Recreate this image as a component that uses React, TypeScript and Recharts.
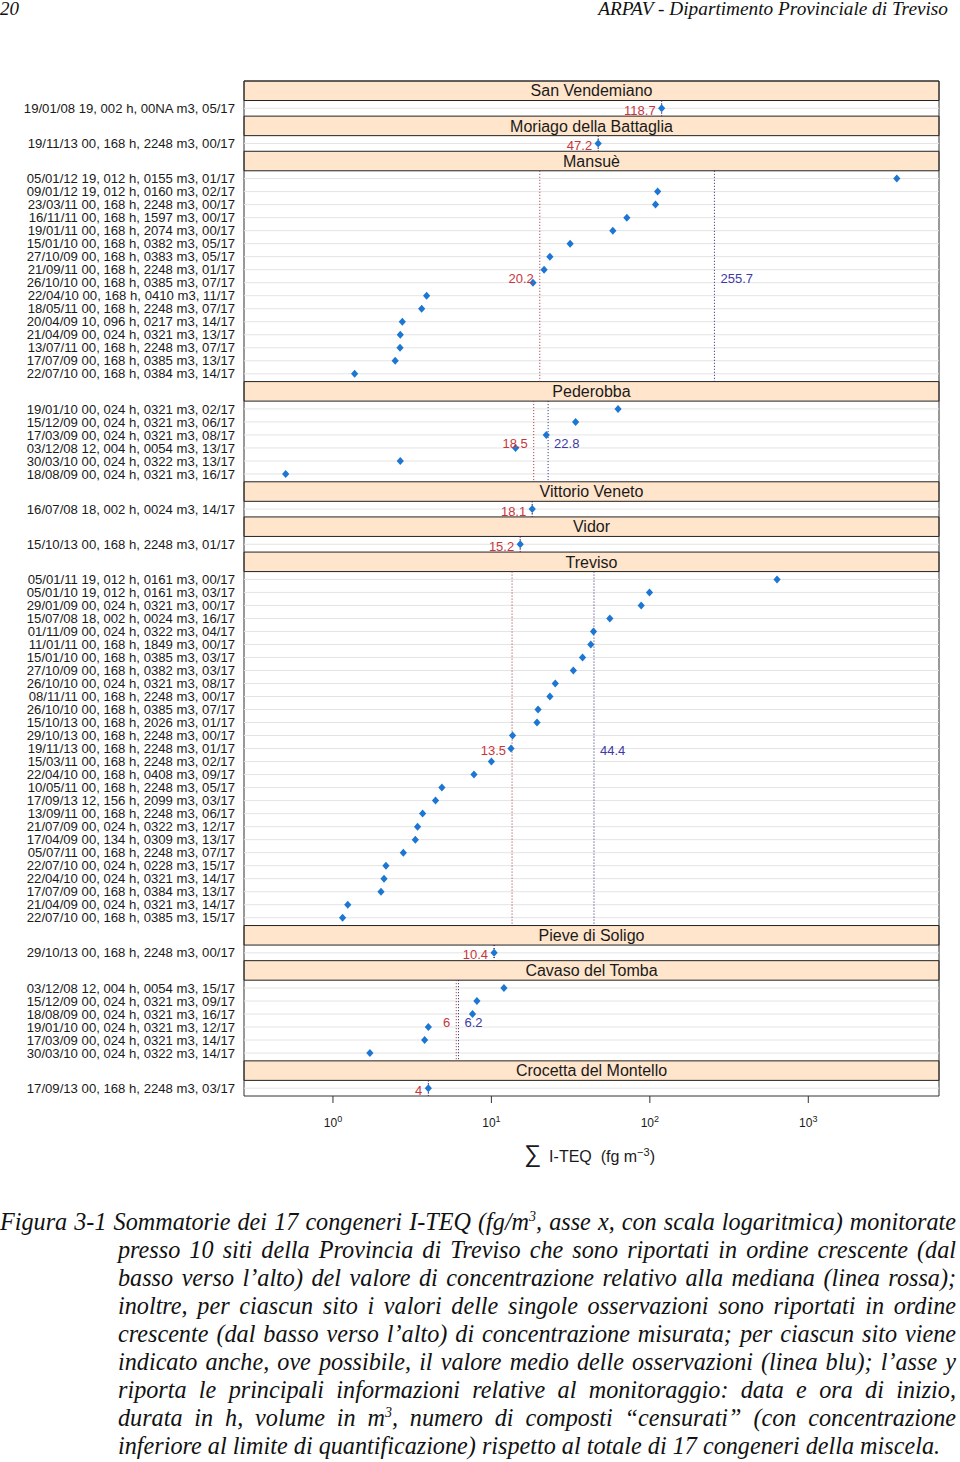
import { ScatterChart, Scatter, XAxis, YAxis, ReferenceArea, ReferenceLine, ReferenceDot } from "recharts"

// sites, top to bottom
const siteNames = [
  "San Vendemiano",
  "Moriago della Battaglia",
  "Mansuè",
  "Pederobba",
  "Vittorio Veneto",
  "Vidor",
  "Treviso",
  "Pieve di Soligo",
  "Cavaso del Tomba",
  "Crocetta del Montello",
]

// observation labels (start date/hour, duration, volume, censored congeners) and I-TEQ values, top row first
const sanVendemianoRows = ["19/01/08 19, 002 h, 00NA m3, 05/17"]
const sanVendemianoValues = [118.7]

const moriagoRows = ["19/11/13 00, 168 h, 2248 m3, 00/17"]
const moriagoValues = [47.2]

const mansueRows = [
  "05/01/12 19, 012 h, 0155 m3, 01/17",
  "09/01/12 19, 012 h, 0160 m3, 02/17",
  "23/03/11 00, 168 h, 2248 m3, 00/17",
  "16/11/11 00, 168 h, 1597 m3, 00/17",
  "19/01/11 00, 168 h, 2074 m3, 00/17",
  "15/01/10 00, 168 h, 0382 m3, 05/17",
  "27/10/09 00, 168 h, 0383 m3, 05/17",
  "21/09/11 00, 168 h, 2248 m3, 01/17",
  "26/10/10 00, 168 h, 0385 m3, 07/17",
  "22/04/10 00, 168 h, 0410 m3, 11/17",
  "18/05/11 00, 168 h, 2248 m3, 07/17",
  "20/04/09 10, 096 h, 0217 m3, 14/17",
  "21/04/09 00, 024 h, 0321 m3, 13/17",
  "13/07/11 00, 168 h, 2248 m3, 07/17",
  "17/07/09 00, 168 h, 0385 m3, 13/17",
  "22/07/10 00, 168 h, 0384 m3, 14/17",
]
const mansueValues = [3620, 112, 108.6, 71.6, 58.4, 31.4, 23.4, 21.5, 18.3, 3.9, 3.63, 2.74, 2.66, 2.65, 2.47, 1.37]

const pederobbaRows = [
  "19/01/10 00, 024 h, 0321 m3, 02/17",
  "15/12/09 00, 024 h, 0321 m3, 06/17",
  "17/03/09 00, 024 h, 0321 m3, 08/17",
  "03/12/08 12, 004 h, 0054 m3, 13/17",
  "30/03/10 00, 024 h, 0322 m3, 13/17",
  "18/08/09 00, 024 h, 0321 m3, 16/17",
]
const pederobbaValues = [63, 34, 22.2, 14.2, 2.66, 0.503]

const vittorioRows = ["16/07/08 18, 002 h, 0024 m3, 14/17"]
const vittorioValues = [18.1]

const vidorRows = ["15/10/13 00, 168 h, 2248 m3, 01/17"]
const vidorValues = [15.2]

const trevisoRows = [
  "05/01/11 19, 012 h, 0161 m3, 00/17",
  "05/01/10 19, 012 h, 0161 m3, 03/17",
  "29/01/09 00, 024 h, 0321 m3, 00/17",
  "15/07/08 18, 002 h, 0024 m3, 16/17",
  "01/11/09 00, 024 h, 0322 m3, 04/17",
  "11/01/11 00, 168 h, 1849 m3, 00/17",
  "15/01/10 00, 168 h, 0385 m3, 03/17",
  "27/10/09 00, 168 h, 0382 m3, 03/17",
  "26/10/10 00, 024 h, 0321 m3, 08/17",
  "08/11/11 00, 168 h, 2248 m3, 00/17",
  "26/10/10 00, 168 h, 0385 m3, 07/17",
  "15/10/13 00, 168 h, 2026 m3, 01/17",
  "29/10/13 00, 168 h, 2248 m3, 00/17",
  "19/11/13 00, 168 h, 2248 m3, 01/17",
  "15/03/11 00, 168 h, 2248 m3, 02/17",
  "22/04/10 00, 168 h, 0408 m3, 09/17",
  "10/05/11 00, 168 h, 2248 m3, 05/17",
  "17/09/13 12, 156 h, 2099 m3, 03/17",
  "13/09/11 00, 168 h, 2248 m3, 06/17",
  "21/07/09 00, 024 h, 0322 m3, 12/17",
  "17/04/09 00, 134 h, 0309 m3, 13/17",
  "05/07/11 00, 168 h, 2248 m3, 07/17",
  "22/07/10 00, 024 h, 0228 m3, 15/17",
  "22/04/10 00, 024 h, 0321 m3, 14/17",
  "17/07/09 00, 168 h, 0384 m3, 13/17",
  "21/04/09 00, 024 h, 0321 m3, 14/17",
  "22/07/10 00, 168 h, 0385 m3, 15/17",
]
const trevisoValues = [
  635, 99.5, 88.2, 55.9, 44.1, 42.4, 37.6, 32.9, 25.3, 23.4, 19.7, 19.4, 13.6, 13.3,
  10.0, 7.76, 4.87, 4.44, 3.68, 3.42, 3.31, 2.78, 2.16, 2.1, 2.01, 1.24, 1.15,
]

const pieveRows = ["29/10/13 00, 168 h, 2248 m3, 00/17"]
const pieveValues = [10.4]

const cavasoRows = [
  "03/12/08 12, 004 h, 0054 m3, 15/17",
  "15/12/09 00, 024 h, 0321 m3, 09/17",
  "18/08/09 00, 024 h, 0321 m3, 16/17",
  "19/01/10 00, 024 h, 0321 m3, 12/17",
  "17/03/09 00, 024 h, 0321 m3, 14/17",
  "30/03/10 00, 024 h, 0322 m3, 14/17",
]
const cavasoValues = [12, 8.1, 7.6, 4.0, 3.79, 1.71]

const crocettaRows = ["17/09/13 00, 168 h, 2248 m3, 03/17"]
const crocettaValues = [4]

const medianValues = [118.7, 47.2, 20.2, 18.5, 18.1, 15.2, 13.5, 10.4, 6, 4]
const meanValues = [118.7, 47.2, 255.7, 22.8, 18.1, 15.2, 44.4, 10.4, 6.2, 4]

const xTicks = [1, 10, 100, 1000]
const xDomain = [0.2745, 6683]

const siteRows = [sanVendemianoRows, moriagoRows, mansueRows, pederobbaRows, vittorioRows, vidorRows, trevisoRows, pieveRows, cavasoRows, crocettaRows]
const siteValues = [sanVendemianoValues, moriagoValues, mansueValues, pederobbaValues, vittorioValues, vidorValues, trevisoValues, pieveValues, cavasoValues, crocettaValues]

// lattice-like layout, in row units: strip 1.5, panel n + 0.2, rows 0.6 from the top
let cursor = 0
const panels = siteNames.map((name, i) => {
  const rows = siteRows[i]
  const stripTop = cursor
  const top = cursor + 1.5
  const bottom = top + rows.length + 0.2
  cursor = bottom
  const points = rows.map((label, j) => ({ x: siteValues[i][j], y: top + 0.6 + j, label }))
  return { name, stripTop, top, bottom, points, median: medianValues[i], mean: meanValues[i], center: (top + bottom) / 2 }
})
const yMax = cursor

const allPoints = panels.flatMap((p) => p.points)
const rowTicks = allPoints.map((p) => p.y)
const rowLabels = new Map(allPoints.map((p) => [p.y.toFixed(3), p.label]))

const font = '"Liberation Sans", Arial, sans-serif'
const red = "#c8363c"
const blue = "#3d3aa6"

const Diamond = (props: any) => {
  const { cx, cy } = props
  return <path d={`M${cx},${cy - 4}L${cx + 3.6},${cy}L${cx},${cy + 4}L${cx - 3.6},${cy}Z`} fill="#1d76d2" />
}

const RowTick = (props: any) => {
  const { x, y, payload } = props
  return (
    <text x={x} y={y} dy="0.35em" textAnchor="end" fontSize={13.15} fontFamily={font} fill="#1a1a1a">
      {rowLabels.get(Number(payload.value).toFixed(3))}
    </text>
  )
}

const PowerTick = (props: any) => {
  const { x, y, payload } = props
  const exp = Math.round(Math.log10(payload.value))
  return (
    <text x={x} y={y + 22} textAnchor="middle" fontSize={12} fontFamily={font} fill="#1a1a1a">
      10
      <tspan dy={-5} fontSize={9}>{exp}</tspan>
    </text>
  )
}

function LatticeDotplot() {
  return (
    <ScatterChart width={960} height={1180} margin={{ top: 73, right: 21, bottom: 0, left: 8 }}>
      <XAxis
        type="number"
        dataKey="x"
        scale="log"
        domain={xDomain}
        allowDataOverflow
        ticks={xTicks}
        interval={0}
        axisLine={false}
        tickSize={7}
        tickLine={{ stroke: "#333" }}
        tick={<PowerTick />}
        height={84}
      />
      <XAxis
        xAxisId="top"
        orientation="top"
        type="number"
        scale="log"
        domain={xDomain}
        allowDataOverflow
        ticks={xTicks}
        interval={0}
        axisLine={false}
        tickSize={8}
        tickLine={{ stroke: "#333" }}
        tick={false}
        height={8}
      />
      <YAxis
        type="number"
        dataKey="y"
        domain={[0, yMax]}
        reversed
        allowDataOverflow
        ticks={rowTicks}
        interval={0}
        width={236}
        axisLine={false}
        tickLine={false}
        tickSize={0}
        tickMargin={9}
        tick={<RowTick />}
      />
      {rowTicks.map((y, i) => (
        <ReferenceLine key={`g${i}`} y={y} stroke="#e4e4e4" strokeWidth={1} />
      ))}
      {panels.map((p) => (
        <ReferenceArea
          key={`s${p.name}`}
          x1={xDomain[0]}
          x2={xDomain[1]}
          y1={p.stripTop}
          y2={p.top}
          fill="#ffe5cc"
          fillOpacity={1}
          stroke="#222"
          strokeWidth={1}
          label={{ value: p.name, position: "center", fontSize: 16, fill: "#1a1a1a", fontFamily: font }}
        />
      ))}
      {panels.map((p) => (
        <ReferenceLine
          key={`md${p.name}`}
          segment={[{ x: p.median, y: p.top }, { x: p.median, y: p.bottom }]}
          stroke="#9a2b35"
          strokeDasharray="1 2"
        />
      ))}
      {panels.map((p) => (
        <ReferenceLine
          key={`mn${p.name}`}
          segment={[{ x: p.mean, y: p.top }, { x: p.mean, y: p.bottom }]}
          stroke="#22226e"
          strokeDasharray="1 2"
        />
      ))}
      {panels.map((p) => (
        <ReferenceDot
          key={`ml${p.name}`}
          x={p.median}
          y={p.center + 0.15}
          r={0}
          fill="none"
          stroke="none"
          label={{ value: String(p.median), position: "left", offset: 6, fontSize: 13, fill: red, fontFamily: font }}
        />
      ))}
      {panels
        .filter((p) => p.points.length > 1)
        .map((p) => (
          <ReferenceDot
            key={`al${p.name}`}
            x={p.mean}
            y={p.center + 0.15}
            r={0}
            fill="none"
            stroke="none"
            label={{ value: String(p.mean), position: "right", offset: 6, fontSize: 13, fill: blue, fontFamily: font }}
          />
        ))}
      <ReferenceArea x1={xDomain[0]} x2={xDomain[1]} y1={0} y2={yMax} fill="none" stroke="#333" strokeWidth={1} />
      <Scatter data={allPoints} shape={<Diamond />} isAnimationActive={false} />
    </ScatterChart>
  )
}

const captionLines = [
  "presso 10 siti della Provincia di Treviso che sono riportati in ordine crescente (dal",
  "basso verso l’alto) del valore di concentrazione relativo alla mediana (linea rossa);",
  "inoltre, per ciascun sito i valori delle singole osservazioni sono riportati in ordine",
  "crescente (dal basso verso l’alto) di concentrazione misurata; per ciascun sito viene",
  "indicato anche, ove possibile, il valore medio delle osservazioni (linea blu); l’asse y",
  "riporta le principali informazioni relative al monitoraggio: data e ora di inizio,",
]

export default function App() {
  const serif = '"Liberation Serif", "Times New Roman", serif'
  const line = { position: "absolute" as const, left: 118, width: 838, height: 28, lineHeight: "28px", textAlign: "justify" as const, textAlignLast: "justify" as const, whiteSpace: "nowrap" as const }
  return (
    <div style={{ position: "absolute", left: 0, top: 0, width: 960, height: 1462, background: "#fff", fontFamily: serif, fontStyle: "italic", color: "#111" }}>
      <div style={{ position: "absolute", left: 0, top: -2, fontSize: 19 }}>20</div>
      <div style={{ position: "absolute", right: 12, top: -2, fontSize: 19.3 }}>ARPAV - Dipartimento Provinciale di Treviso</div>
      <div style={{ position: "absolute", left: 0, top: 0, fontStyle: "normal" }}>
        <LatticeDotplot />
      </div>
      <div style={{ position: "absolute", left: 524, top: 1140, fontStyle: "normal", fontFamily: font, color: "#1a1a1a", whiteSpace: "nowrap" }}>
        <span style={{ fontSize: 24 }}>∑</span>
        <span style={{ fontSize: 16, marginLeft: 8 }}>
          I-TEQ&nbsp;&nbsp;(fg m<sup style={{ fontSize: 11 }}>−3</sup>)
        </span>
      </div>
      <div style={{ position: "absolute", left: 0, top: 0, width: 960, fontSize: 24.2 }}>
        <div style={{ ...line, left: 0, width: 956, top: 1208 }}>
          Figura 3-1 Sommatorie dei 17 congeneri I-TEQ (fg/m<sup style={{ fontSize: 14, lineHeight: 0 }}>3</sup>, asse x, con scala logaritmica) monitorate
        </div>
        {captionLines.map((t, i) => (
          <div key={i} style={{ ...line, top: 1236 + i * 28 }}>
            {t}
          </div>
        ))}
        <div style={{ ...line, top: 1404 }}>
          durata in h, volume in m<sup style={{ fontSize: 14, lineHeight: 0 }}>3</sup>, numero di composti “censurati” (con concentrazione
        </div>
        <div style={{ ...line, top: 1432, textAlignLast: "left" as const }}>
          inferiore al limite di quantificazione) rispetto al totale di 17 congeneri della miscela.
        </div>
      </div>
    </div>
  )
}
